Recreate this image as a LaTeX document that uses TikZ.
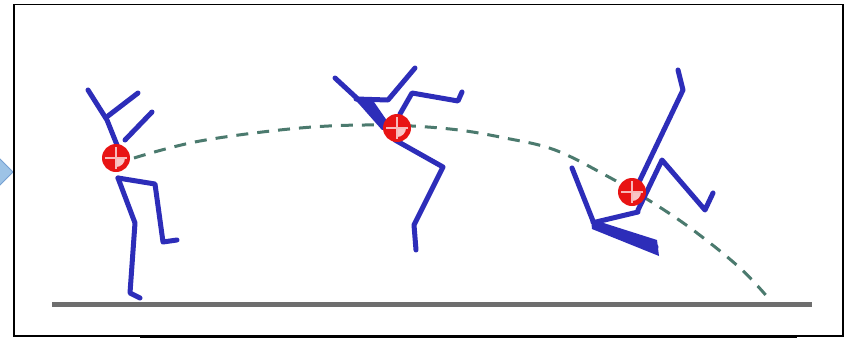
\documentclass[tikz,border=0pt]{standalone}
\definecolor{stick}{RGB}{45,45,185}
\definecolor{com}{RGB}{232,20,20}
\definecolor{traj}{RGB}{75,122,110}
\definecolor{groundgrey}{RGB}{110,110,110}
\definecolor{arrowfill}{RGB}{157,195,230}
\definecolor{arrowedge}{RGB}{118,160,210}

\begin{document}
\begin{tikzpicture}[x=1pt,y=-1pt,
  limb/.style={draw=stick,line width=5pt,line cap=round,line join=round},
  wedge/.style={fill=stick,draw=stick,line width=2pt,line join=round},
  cmark/.pic={
    \fill[com] (0,0) circle (14);
    \fill[white!75!com] (0,0) -- (9,0) arc[start angle=0,end angle=90,radius=9] -- cycle;
    \draw[white!70!com,line width=1.1pt] (-11,0) -- (11,0) (0,-11) -- (0,11);
  }]
\useasboundingbox (0,0) rectangle (849,338);
\fill[white] (0,0) rectangle (849,338);

% incoming arrow on the left edge
\filldraw[fill=arrowfill,draw=arrowedge,line width=0.8pt] (-3,156) -- (13,172) -- (-3,188) -- cycle;

% outer frame
\draw[line width=1.8pt] (14,4.5) rectangle (843,336);
\draw[line width=1.6pt] (140,337.6) -- (797,337.6);

% flight path of the centre of mass
\draw[traj,line width=3pt,dash pattern=on 12pt off 9pt]
  plot[smooth,tension=0.6] coordinates {(134,158) (200,141) (300,128) (380,125)
    (450,129) (505,138) (555,150) (607,176) (650,201) (693,230) (740,268) (770,300)};

% ground
\draw[groundgrey,line width=5pt] (52,304) -- (812,304);

% take-off pose
\draw[limb] (88,90) -- (107,120) -- (117,145);
\draw[limb] (108,116) -- (138,93);
\draw[limb] (125,140) -- (152,112);
\draw[limb] (118,178) -- (155,184) -- (163,242) -- (177,240);
\draw[limb] (118,178) -- (135,223) -- (130,293) -- (140,298);
\pic at (116,158) {cmark};

% apex pose
\draw[limb] (335,78) -- (387,126);
\draw[limb] (356,99) -- (388,100) -- (415,68);
\fill[stick] (352,96) -- (372,99) -- (392,128) -- (382,130) -- cycle;
\draw[limb] (400,114) -- (412,93) -- (458,101) -- (462,92);
\draw[limb] (395,140) -- (443,167) -- (414,225) -- (416,250);
\pic at (397,128) {cmark};

% landing pose
\draw[limb] (678,70) -- (683,90) -- (640,180);
\draw[limb] (638,210) -- (662,160) -- (705,210) -- (713,193);
\draw[limb] (638,212) -- (596,222);
\draw[limb] (572,168) -- (593,221);
\fill[stick] (591,219) -- (657,240) -- (659,256) -- (592,229) -- cycle;
\draw[limb] (593,222) -- (656,247);
\pic at (632,192) {cmark};
\end{tikzpicture}
\end{document}
